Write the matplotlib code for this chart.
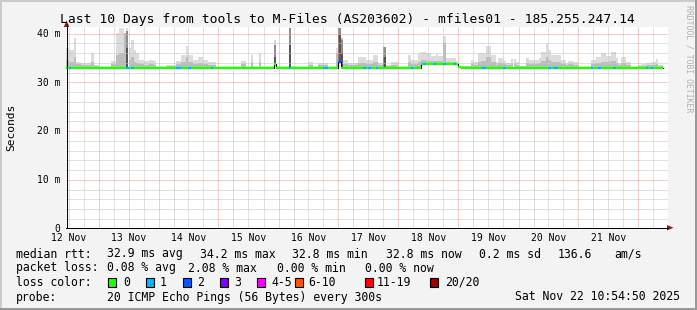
import numpy as np
import matplotlib
matplotlib.use("Agg")
import matplotlib.pyplot as plt
from matplotlib.patches import Rectangle, Polygon
from matplotlib.lines import Line2D

plt.rcParams['font.family'] = ['DejaVu Sans Mono']

# ---------------- data (hourly, 10 days, start 12 Nov ~10:54) ----------------
nan = float('nan')
rtt_max = [
    36.9, 36.5, 36.5, 38.9, 34.1, 34.1, 33.9, 33.9, 33.9, 33.9, 36.0, 33.4, 33.4, 33.2, 33.2, 33.2, 33.2, 33.2, 34.3, 34.3, 39.9, 41.0, 41.0, 39.9,
    41.1, 36.9, 38.6, 36.5, 35.8, 34.5, 34.5, 34.3, 34.3, 34.5, 34.5, 34.3, 33.2, 33.2, 33.2, 33.3, 33.4, 33.4, 33.4, 33.4, 34.3, 34.3, 35.5, 35.5,
    37.3, 35.5, 35.5, 34.5, 34.5, 35.1, 35.1, 34.5, 34.5, 34.1, 34.1, 34.1, 33.3, 33.3, 33.3, 33.3, 33.2, 33.2, 33.2, 33.2, 33.2, 33.2, 34.3, 34.3,
    33.2, 33.2, 35.5, 33.2, 33.2, 36.0, 33.2, 33.2, 33.2, 33.2, 33.3, 38.6, 33.2, 33.2, 33.2, 33.2, 33.2, 41.0, 33.2, 33.2, 33.2, 33.2, 33.2, 33.2,
    33.2, 34.0, 34.0, 33.2, 33.2, 33.8, 33.8, 33.8, 33.8, 33.2, 33.2, 33.3, 37.0, 41.0, 39.0, 34.5, 34.5, 33.8, 33.8, 33.8, 33.8, 35.1, 35.1, 35.1,
    34.5, 34.5, 34.5, 35.5, 35.5, 33.8, 33.8, 37.2, 33.4, 33.4, 34.1, 34.1, 34.1, 33.2, 33.2, 33.2, 33.2, 35.5, 34.5, 34.5, 34.5, 35.8, 36.2, 36.2,
    35.8, 35.8, 35.3, 35.3, 35.7, 35.2, 35.2, 39.4, 34.8, 34.8, 34.8, 34.8, 34.3, 33.3, 33.3, 33.3, 33.3, 33.3, 34.5, 34.1, 34.1, 35.8, 36.0, 36.0,
    37.3, 37.3, 35.5, 35.5, 34.1, 34.8, 34.8, 34.3, 33.8, 33.8, 34.6, 34.6, 34.1, 33.3, 33.3, 33.3, 34.8, 34.5, 34.5, 34.5, 34.5, 34.8, 36.2, 36.2,
    37.7, 36.5, 35.5, 35.5, 35.5, 35.5, 34.5, 34.5, 33.8, 34.3, 34.3, 34.1, 34.1, 33.2, 33.2, 33.2, 33.2, 33.2, 34.5, 34.5, 35.1, 35.1, 35.8, 35.8,
    35.3, 35.3, 36.2, 36.2, 34.8, 33.8, 35.1, 35.1, 34.1, 34.1, 33.2, 33.2, 33.2, 33.4, 33.6, 33.6, 33.8, 33.8, 34.1, 34.1, 34.6, 33.4, 33.4, nan,
]
rtt_upper = [
    34.5, 34.0, 34.0, 35.0, 33.6, 33.6, 33.5, 33.5, 33.5, 33.5, 34.0, 33.2, 33.2, 33.1, 33.1, 33.1, 33.1, 33.1, 33.6, 33.6, 35.5, 36.0, 35.9, 39.9,
    40.5, 34.5, 35.0, 34.0, 33.8, 33.6, 33.6, 33.5, 33.5, 33.6, 33.6, 33.5, 33.1, 33.1, 33.1, 33.1, 33.2, 33.2, 33.2, 33.2, 33.6, 33.6, 34.0, 34.0,
    35.0, 34.0, 34.0, 33.6, 33.6, 33.8, 33.8, 33.6, 33.6, 33.5, 33.5, 33.5, 33.1, 33.1, 33.1, 33.1, 33.1, 33.1, 33.1, 33.1, 33.1, 33.1, 33.6, 33.6,
    33.1, 33.1, 34.0, 33.1, 33.1, 34.0, 33.1, 33.1, 33.1, 33.1, 33.1, 37.5, 33.1, 33.1, 33.1, 33.1, 33.1, 41.0, 33.1, 33.1, 33.1, 33.1, 33.1, 33.1,
    33.1, 33.5, 33.5, 33.1, 33.1, 33.4, 33.4, 33.4, 33.4, 33.1, 33.1, 33.1, 36.0, 41.0, 39.0, 33.6, 33.6, 33.4, 33.4, 33.4, 33.4, 33.8, 33.8, 33.8,
    33.6, 33.6, 33.6, 34.0, 34.0, 33.4, 33.4, 37.2, 33.2, 33.2, 33.5, 33.5, 33.5, 33.1, 33.1, 33.1, 33.1, 34.0, 33.6, 33.6, 33.6, 34.0, 34.5, 34.5,
    34.3, 34.3, 34.2, 34.2, 34.3, 34.2, 34.2, 38.0, 34.0, 34.0, 34.0, 34.0, 33.8, 33.2, 33.2, 33.2, 33.2, 33.2, 33.6, 33.5, 33.5, 34.0, 34.2, 34.2,
    35.0, 35.0, 34.0, 34.0, 33.5, 33.8, 33.8, 33.6, 33.4, 33.4, 33.6, 33.6, 33.5, 33.2, 33.2, 33.2, 33.8, 33.6, 33.6, 33.6, 33.6, 33.8, 34.3, 34.3,
    35.0, 34.5, 34.0, 34.0, 34.0, 34.0, 33.6, 33.6, 33.4, 33.6, 33.6, 33.5, 33.5, 33.1, 33.1, 33.1, 33.1, 33.1, 33.6, 33.6, 33.8, 33.8, 34.0, 34.0,
    34.0, 34.0, 34.3, 34.3, 33.8, 33.4, 33.8, 33.8, 33.5, 33.5, 33.1, 33.1, 33.1, 33.2, 33.3, 33.3, 33.4, 33.4, 33.5, 33.5, 33.6, 33.2, 33.2, nan,
]
median_base = 32.9
median_changes_h = [83, 109, 142, 143, 144, 145, 146, 147, 148, 149, 150, 151, 152, 153, 154, 155, 156, 157]
median_changes_v = [33.6, 34.0, 33.6, 33.6, 33.6, 33.6, 33.6, 33.6, 33.6, 33.6, 33.6, 33.6, 33.6, 33.6, 33.6, 33.6, 33.6, 33.1]
spike_hours = [24, 83, 89, 109, 110, 127]
spike_hi = [40.5, 37.5, 41.0, 41.0, 38.5, 37.2]
spike_core = [37.0, 35.0, 37.5, 39.5, 36.0, 35.0]
loss1_hours = [1, 24, 26, 44, 45, 49, 58, 89, 103, 104, 119, 121, 124, 138, 143, 147, 151,
               155, 166, 167, 175, 193, 195, 196, 210, 213, 219, 232, 234]
loss2_hours = [109]
day_labels = ['12 Nov', '13 Nov', '14 Nov', '15 Nov', '16 Nov', '17 Nov', '18 Nov', '19 Nov', '20 Nov', '21 Nov']
y_ticks = [0, 10, 20, 30, 40]
y_tick_labels = ['0', '10 m', '20 m', '30 m', '40 m']
loss_labels = ['0', '1', '2', '3', '4-5', '6-10', '11-19', '20/20']
loss_colors = ['#26ff00', '#00b8ff', '#0059ff', '#7e00ff', '#ff00ff', '#ff5500', '#ff0000', '#a10000']

# ---------------- layout ----------------
W, H = 697, 310
fig = plt.figure(figsize=(W / 100, H / 100), dpi=100, facecolor='#f3f3f3')

def fx(x):
    return x / W

def fy(y):
    return 1 - y / H

x0, x1, y0, y1 = 66.0, 668.0, 228.0, 27.0
pxh, pxms = 2.5, 4.875
ax = fig.add_axes([fx(x0), fy(y0), (x1 - x0) / W, (y0 - y1) / H])
ax.set_facecolor('white')
xmax = (x1 - x0) / pxh
ymax = (y0 - y1) / pxms
ax.set_xlim(0, xmax)
ax.set_ylim(0, ymax)
for s in ax.spines.values():
    s.set_visible(False)

n = len(rtt_max)
hours = np.arange(n)
median = np.full(n, median_base)
median[np.array(median_changes_h)] = median_changes_v
median[-1] = np.nan
rmax = np.array(rtt_max)
rup = np.array(rtt_upper)

# smoke
ax.bar(hours, rmax - median, bottom=median, width=1, align='edge', color='#dcdcdc', linewidth=0, zorder=2)
ax.bar(hours, rup - median, bottom=median, width=1, align='edge', color='#bcbcbc', linewidth=0, zorder=2.1)
sh = np.array(spike_hours)
ax.bar(sh, np.array(spike_hi) - median[sh], bottom=median[sh], width=1, align='edge', color='#8c8c8c', linewidth=0, zorder=2.2)
ax.bar(sh, np.array(spike_core) - median[sh], bottom=median[sh], width=1, align='edge', color='#555555', linewidth=0, zorder=2.3)

# grid: dotted 1px lines snapped to pixel centres
minor_c, major_c = '#c4c4c4', '#f29a9a'
day0 = 12.9  # first midnight, hours after start

def ysnap(v):
    row = np.floor(y0 - pxms * v)
    return ((H - 0.5 - row) - (H - y0)) / pxms

def xsnap(h):
    col = np.floor(x0 + pxh * h)
    return (col + 0.5 - x0) / pxh

hkw = dict(lw=0.72, linestyle=(0.0, (1, 1)))
for yv in np.arange(2, ymax, 2):
    if yv % 10 != 0:
        ax.axhline(ysnap(yv), color=minor_c, zorder=3, **hkw)
for xv in np.arange(day0 - 12, xmax, 6):
    if abs((xv - day0) % 24) > 1e-6 and xv > 0.5:
        ax.axvline(xsnap(xv), color=minor_c, zorder=3, **hkw)
for yv in y_ticks[1:]:
    ax.axhline(ysnap(yv), color=major_c, zorder=3.1, **hkw)
for xv in np.arange(day0, xmax, 24):
    ax.axvline(xsnap(xv), color=major_c, zorder=3.1, **hkw)

# median line coloured by loss
step_x = np.append(hours, n)
step_y = np.append(median, median[-2])
ax.step(step_x[:-1], step_y[:-1], where='post', color='black', lw=0.8, zorder=4)
loss = np.zeros(n, dtype=int)
loss[np.array(loss1_hours)] = 1
loss[np.array(loss2_hours)] = 2
cols = [loss_colors[l] for l in loss]
ax.hlines(median, hours, hours + 1, colors=cols, lw=1.6, zorder=5)

# ticks
ax.set_yticks(y_ticks, y_tick_labels)
ax.set_xticks(np.arange(day0 - 12, xmax, 24)[:len(day_labels)], day_labels)
ax.tick_params(axis='both', length=0, labelsize=7)
ax.tick_params(axis='y', pad=4.3)
ax.tick_params(axis='x', pad=3.4)

# axes lines and arrows
fig.add_artist(Line2D([fx(x0), fx(x1)], [fy(y0 - 0.5), fy(y0 - 0.5)], color='black', lw=0.72))
fig.add_artist(Line2D([fx(x0 + 0.5), fx(x0 + 0.5)], [fy(y0), fy(24)], color='black', lw=0.72))
arrow_c = '#8b1c1c'
fig.add_artist(Polygon([(fx(667), fy(225)), (fx(667), fy(230.5)), (fx(673.5), fy(227.7))], closed=True, color=arrow_c, lw=0))
fig.add_artist(Polygon([(fx(63.8), fy(27)), (fx(69.3), fy(27)), (fx(x0 + 0.5), fy(20.5))], closed=True, color=arrow_c, lw=0))

# title, labels
fig.text(fx(347), fy(19.3), 'Last 10 Days from tools to M-Files (AS203602) - mfiles01 - 185.255.247.14',
         ha='center', va='center', fontsize=9.4, color='black')
fig.text(fx(11), fy(127), 'Seconds', rotation=90, ha='center', va='center', fontsize=8.1)
fig.text(fx(689), fy(5), 'RRDTOOL / TOBI OETIKER', rotation=270, ha='center', va='top', fontsize=5.9, color='#b0b0b0')

# legend
fs = 8.3
def t(x, y, s, ha='left'):
    fig.text(fx(x), fy(y), s, ha=ha, va='center', fontsize=fs)

t(16, 254, 'median rtt:')
t(107, 254, '32.9 ms avg')
t(200, 254, '34.2 ms max')
t(292.5, 254, '32.8 ms min')
t(385.5, 254, '32.8 ms now')
t(479, 254, '0.2 ms sd')
t(558, 254, '136.6')
t(614, 254, 'am/s')
t(16, 268, 'packet loss:')
t(107, 268, '0.08 % avg')
t(188, 268, '2.08 % max')
t(277, 268, '0.00 % min')
t(365, 268, '0.00 % now')
t(16, 282, 'loss color:')
box_x = [108, 145.5, 182.5, 220, 257, 295, 365, 430]
lab_x = [123, 160, 197, 234, 271, 308, 376.5, 445]
for bx, lx, lab, c in zip(box_x, lab_x, loss_labels, loss_colors):
    fig.add_artist(Rectangle((fx(bx), fy(286.5)), 8 / W, 9 / H, facecolor=c, edgecolor='black', lw=0.8))
    t(lx, 282, lab)
t(16, 297, 'probe:')
t(107, 297, '20 ICMP Echo Pings (56 Bytes) every 300s')
t(680, 297, 'Sat Nov 22 10:54:50 2025', ha='right')

# frame shading
fig.add_artist(Rectangle((0, fy(2)), 1, 2 / H, facecolor='#cbcbcb', lw=0))
fig.add_artist(Rectangle((0, 0), 2 / W, 1, facecolor='#cbcbcb', lw=0))
fig.add_artist(Rectangle((0, 0), 1, 2 / H, facecolor='#999999', lw=0))
fig.add_artist(Rectangle((1 - 2 / W, 0), 2 / W, 1, facecolor='#999999', lw=0))

fig.savefig('out.png', dpi=100, facecolor=fig.get_facecolor())
